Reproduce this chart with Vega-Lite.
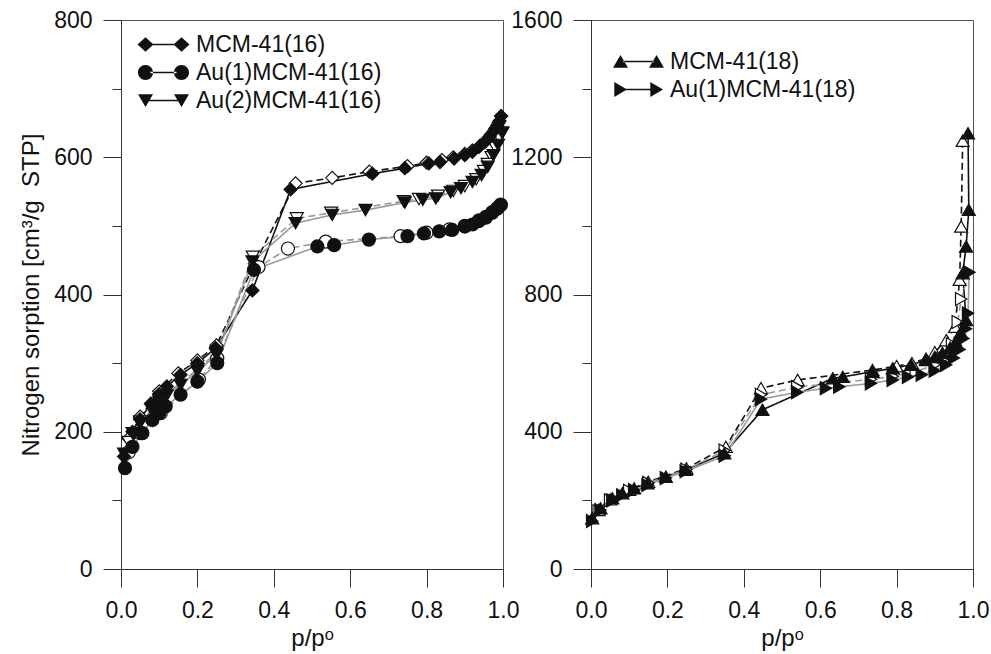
{
"$schema": "https://vega.github.io/schema/vega-lite/v6.json",
"background": "white",
"padding": {"left": 19, "top": 8, "right": 5, "bottom": 5},
"datasets": {
"a": [
{"s":"MCM-41(16)","b":"ads","i":1,"p":0.008,"v":164},{"s":"MCM-41(16)","b":"ads","i":2,"p":0.03,"v":200},{"s":"MCM-41(16)","b":"ads","i":3,"p":0.05,"v":218},{"s":"MCM-41(16)","b":"ads","i":4,"p":0.078,"v":241},{"s":"MCM-41(16)","b":"ads","i":5,"p":0.1,"v":255},{"s":"MCM-41(16)","b":"ads","i":6,"p":0.12,"v":266},{"s":"MCM-41(16)","b":"ads","i":7,"p":0.156,"v":283},{"s":"MCM-41(16)","b":"ads","i":8,"p":0.2,"v":300},{"s":"MCM-41(16)","b":"ads","i":9,"p":0.248,"v":322},{"s":"MCM-41(16)","b":"ads","i":10,"p":0.344,"v":406},{"s":"MCM-41(16)","b":"ads","i":11,"p":0.444,"v":553},{"s":"MCM-41(16)","b":"ads","i":12,"p":0.658,"v":576},{"s":"MCM-41(16)","b":"ads","i":13,"p":0.743,"v":584},{"s":"MCM-41(16)","b":"ads","i":14,"p":0.806,"v":591},{"s":"MCM-41(16)","b":"ads","i":15,"p":0.835,"v":593},{"s":"MCM-41(16)","b":"ads","i":16,"p":0.872,"v":598},{"s":"MCM-41(16)","b":"ads","i":17,"p":0.9,"v":603},{"s":"MCM-41(16)","b":"ads","i":18,"p":0.92,"v":608},{"s":"MCM-41(16)","b":"ads","i":19,"p":0.937,"v":615},{"s":"MCM-41(16)","b":"ads","i":20,"p":0.952,"v":622},{"s":"MCM-41(16)","b":"ads","i":21,"p":0.965,"v":630},{"s":"MCM-41(16)","b":"ads","i":22,"p":0.976,"v":638},{"s":"MCM-41(16)","b":"ads","i":23,"p":0.985,"v":646},{"s":"MCM-41(16)","b":"ads","i":24,"p":0.991,"v":653},{"s":"MCM-41(16)","b":"ads","i":25,"p":0.995,"v":660},
{"s":"MCM-41(16)","b":"des","i":1,"p":0.995,"v":660},{"s":"MCM-41(16)","b":"des","i":2,"p":0.988,"v":650},{"s":"MCM-41(16)","b":"des","i":3,"p":0.98,"v":642},{"s":"MCM-41(16)","b":"des","i":4,"p":0.968,"v":633},{"s":"MCM-41(16)","b":"des","i":5,"p":0.955,"v":624},{"s":"MCM-41(16)","b":"des","i":6,"p":0.94,"v":617},{"s":"MCM-41(16)","b":"des","i":7,"p":0.92,"v":610},{"s":"MCM-41(16)","b":"des","i":8,"p":0.9,"v":605},{"s":"MCM-41(16)","b":"des","i":9,"p":0.87,"v":600},{"s":"MCM-41(16)","b":"des","i":10,"p":0.84,"v":596},{"s":"MCM-41(16)","b":"des","i":11,"p":0.8,"v":592},{"s":"MCM-41(16)","b":"des","i":12,"p":0.75,"v":587},{"s":"MCM-41(16)","b":"des","i":13,"p":0.65,"v":579},{"s":"MCM-41(16)","b":"des","i":14,"p":0.553,"v":570},{"s":"MCM-41(16)","b":"des","i":15,"p":0.457,"v":562},{"s":"MCM-41(16)","b":"des","i":16,"p":0.35,"v":445},{"s":"MCM-41(16)","b":"des","i":17,"p":0.25,"v":326},{"s":"MCM-41(16)","b":"des","i":18,"p":0.2,"v":304},{"s":"MCM-41(16)","b":"des","i":19,"p":0.15,"v":285},{"s":"MCM-41(16)","b":"des","i":20,"p":0.1,"v":259},{"s":"MCM-41(16)","b":"des","i":21,"p":0.05,"v":222},{"s":"MCM-41(16)","b":"des","i":22,"p":0.02,"v":190},
{"s":"Au(1)MCM-41(16)","b":"ads","i":1,"p":0.0105,"v":147},{"s":"Au(1)MCM-41(16)","b":"ads","i":2,"p":0.03,"v":178},{"s":"Au(1)MCM-41(16)","b":"ads","i":3,"p":0.056,"v":198},{"s":"Au(1)MCM-41(16)","b":"ads","i":4,"p":0.082,"v":217},{"s":"Au(1)MCM-41(16)","b":"ads","i":5,"p":0.1,"v":227},{"s":"Au(1)MCM-41(16)","b":"ads","i":6,"p":0.117,"v":237},{"s":"Au(1)MCM-41(16)","b":"ads","i":7,"p":0.156,"v":254},{"s":"Au(1)MCM-41(16)","b":"ads","i":8,"p":0.2,"v":273},{"s":"Au(1)MCM-41(16)","b":"ads","i":9,"p":0.252,"v":300},{"s":"Au(1)MCM-41(16)","b":"ads","i":10,"p":0.348,"v":436},{"s":"Au(1)MCM-41(16)","b":"ads","i":11,"p":0.514,"v":470},{"s":"Au(1)MCM-41(16)","b":"ads","i":12,"p":0.558,"v":472},{"s":"Au(1)MCM-41(16)","b":"ads","i":13,"p":0.649,"v":480},{"s":"Au(1)MCM-41(16)","b":"ads","i":14,"p":0.75,"v":485},{"s":"Au(1)MCM-41(16)","b":"ads","i":15,"p":0.793,"v":489},{"s":"Au(1)MCM-41(16)","b":"ads","i":16,"p":0.833,"v":492},{"s":"Au(1)MCM-41(16)","b":"ads","i":17,"p":0.867,"v":494},{"s":"Au(1)MCM-41(16)","b":"ads","i":18,"p":0.9,"v":499},{"s":"Au(1)MCM-41(16)","b":"ads","i":19,"p":0.92,"v":502},{"s":"Au(1)MCM-41(16)","b":"ads","i":20,"p":0.937,"v":507},{"s":"Au(1)MCM-41(16)","b":"ads","i":21,"p":0.955,"v":512},{"s":"Au(1)MCM-41(16)","b":"ads","i":22,"p":0.972,"v":519},{"s":"Au(1)MCM-41(16)","b":"ads","i":23,"p":0.985,"v":525},{"s":"Au(1)MCM-41(16)","b":"ads","i":24,"p":0.994,"v":530},
{"s":"Au(1)MCM-41(16)","b":"des","i":1,"p":0.994,"v":531},{"s":"Au(1)MCM-41(16)","b":"des","i":2,"p":0.985,"v":526},{"s":"Au(1)MCM-41(16)","b":"des","i":3,"p":0.972,"v":520},{"s":"Au(1)MCM-41(16)","b":"des","i":4,"p":0.955,"v":513},{"s":"Au(1)MCM-41(16)","b":"des","i":5,"p":0.937,"v":508},{"s":"Au(1)MCM-41(16)","b":"des","i":6,"p":0.9,"v":500},{"s":"Au(1)MCM-41(16)","b":"des","i":7,"p":0.86,"v":495},{"s":"Au(1)MCM-41(16)","b":"des","i":8,"p":0.8,"v":490},{"s":"Au(1)MCM-41(16)","b":"des","i":9,"p":0.732,"v":485},{"s":"Au(1)MCM-41(16)","b":"des","i":10,"p":0.536,"v":477},{"s":"Au(1)MCM-41(16)","b":"des","i":11,"p":0.437,"v":467},{"s":"Au(1)MCM-41(16)","b":"des","i":12,"p":0.36,"v":440},{"s":"Au(1)MCM-41(16)","b":"des","i":13,"p":0.252,"v":307},{"s":"Au(1)MCM-41(16)","b":"des","i":14,"p":0.204,"v":276},{"s":"Au(1)MCM-41(16)","b":"des","i":15,"p":0.104,"v":227},{"s":"Au(1)MCM-41(16)","b":"des","i":16,"p":0.051,"v":198},{"s":"Au(1)MCM-41(16)","b":"des","i":17,"p":0.02,"v":170},
{"s":"Au(2)MCM-41(16)","b":"ads","i":1,"p":0.008,"v":168},{"s":"Au(2)MCM-41(16)","b":"ads","i":2,"p":0.03,"v":198},{"s":"Au(2)MCM-41(16)","b":"ads","i":3,"p":0.05,"v":212},{"s":"Au(2)MCM-41(16)","b":"ads","i":4,"p":0.08,"v":232},{"s":"Au(2)MCM-41(16)","b":"ads","i":5,"p":0.1,"v":243},{"s":"Au(2)MCM-41(16)","b":"ads","i":6,"p":0.12,"v":253},{"s":"Au(2)MCM-41(16)","b":"ads","i":7,"p":0.156,"v":268},{"s":"Au(2)MCM-41(16)","b":"ads","i":8,"p":0.2,"v":288},{"s":"Au(2)MCM-41(16)","b":"ads","i":9,"p":0.25,"v":312},{"s":"Au(2)MCM-41(16)","b":"ads","i":10,"p":0.344,"v":448},{"s":"Au(2)MCM-41(16)","b":"ads","i":11,"p":0.457,"v":504},{"s":"Au(2)MCM-41(16)","b":"ads","i":12,"p":0.553,"v":516},{"s":"Au(2)MCM-41(16)","b":"ads","i":13,"p":0.64,"v":523},{"s":"Au(2)MCM-41(16)","b":"ads","i":14,"p":0.743,"v":534},{"s":"Au(2)MCM-41(16)","b":"ads","i":15,"p":0.79,"v":538},{"s":"Au(2)MCM-41(16)","b":"ads","i":16,"p":0.824,"v":540},{"s":"Au(2)MCM-41(16)","b":"ads","i":17,"p":0.863,"v":549},{"s":"Au(2)MCM-41(16)","b":"ads","i":18,"p":0.89,"v":555},{"s":"Au(2)MCM-41(16)","b":"ads","i":19,"p":0.92,"v":564},{"s":"Au(2)MCM-41(16)","b":"ads","i":20,"p":0.944,"v":574},{"s":"Au(2)MCM-41(16)","b":"ads","i":21,"p":0.96,"v":586},{"s":"Au(2)MCM-41(16)","b":"ads","i":22,"p":0.975,"v":603},{"s":"Au(2)MCM-41(16)","b":"ads","i":23,"p":0.987,"v":618},{"s":"Au(2)MCM-41(16)","b":"ads","i":24,"p":0.998,"v":635},
{"s":"Au(2)MCM-41(16)","b":"des","i":1,"p":0.998,"v":636},{"s":"Au(2)MCM-41(16)","b":"des","i":2,"p":0.99,"v":628},{"s":"Au(2)MCM-41(16)","b":"des","i":3,"p":0.98,"v":614},{"s":"Au(2)MCM-41(16)","b":"des","i":4,"p":0.97,"v":600},{"s":"Au(2)MCM-41(16)","b":"des","i":5,"p":0.96,"v":590},{"s":"Au(2)MCM-41(16)","b":"des","i":6,"p":0.95,"v":580},{"s":"Au(2)MCM-41(16)","b":"des","i":7,"p":0.93,"v":568},{"s":"Au(2)MCM-41(16)","b":"des","i":8,"p":0.9,"v":558},{"s":"Au(2)MCM-41(16)","b":"des","i":9,"p":0.87,"v":551},{"s":"Au(2)MCM-41(16)","b":"des","i":10,"p":0.83,"v":544},{"s":"Au(2)MCM-41(16)","b":"des","i":11,"p":0.78,"v":539},{"s":"Au(2)MCM-41(16)","b":"des","i":12,"p":0.74,"v":536},{"s":"Au(2)MCM-41(16)","b":"des","i":13,"p":0.55,"v":519},{"s":"Au(2)MCM-41(16)","b":"des","i":14,"p":0.46,"v":511},{"s":"Au(2)MCM-41(16)","b":"des","i":15,"p":0.345,"v":455},{"s":"Au(2)MCM-41(16)","b":"des","i":16,"p":0.25,"v":315},{"s":"Au(2)MCM-41(16)","b":"des","i":17,"p":0.2,"v":291},{"s":"Au(2)MCM-41(16)","b":"des","i":18,"p":0.1,"v":246},{"s":"Au(2)MCM-41(16)","b":"des","i":19,"p":0.05,"v":215},{"s":"Au(2)MCM-41(16)","b":"des","i":20,"p":0.02,"v":185}
],
"b": [
{"s":"MCM-41(18)","b":"ads","i":1,"p":0.003,"v":148},{"s":"MCM-41(18)","b":"ads","i":2,"p":0.025,"v":177},{"s":"MCM-41(18)","b":"ads","i":3,"p":0.056,"v":206},{"s":"MCM-41(18)","b":"ads","i":4,"p":0.082,"v":221},{"s":"MCM-41(18)","b":"ads","i":5,"p":0.113,"v":235},{"s":"MCM-41(18)","b":"ads","i":6,"p":0.148,"v":250},{"s":"MCM-41(18)","b":"ads","i":7,"p":0.196,"v":269},{"s":"MCM-41(18)","b":"ads","i":8,"p":0.248,"v":289},{"s":"MCM-41(18)","b":"ads","i":9,"p":0.349,"v":337},{"s":"MCM-41(18)","b":"ads","i":10,"p":0.449,"v":464},{"s":"MCM-41(18)","b":"ads","i":11,"p":0.633,"v":556},{"s":"MCM-41(18)","b":"ads","i":12,"p":0.659,"v":560},{"s":"MCM-41(18)","b":"ads","i":13,"p":0.737,"v":575},{"s":"MCM-41(18)","b":"ads","i":14,"p":0.79,"v":585},{"s":"MCM-41(18)","b":"ads","i":15,"p":0.838,"v":595},{"s":"MCM-41(18)","b":"ads","i":16,"p":0.877,"v":609},{"s":"MCM-41(18)","b":"ads","i":17,"p":0.9,"v":618},{"s":"MCM-41(18)","b":"ads","i":18,"p":0.92,"v":630},{"s":"MCM-41(18)","b":"ads","i":19,"p":0.94,"v":645},{"s":"MCM-41(18)","b":"ads","i":20,"p":0.955,"v":662},{"s":"MCM-41(18)","b":"ads","i":21,"p":0.968,"v":690},{"s":"MCM-41(18)","b":"ads","i":22,"p":0.982,"v":726},{"s":"MCM-41(18)","b":"ads","i":23,"p":0.973,"v":862},{"s":"MCM-41(18)","b":"ads","i":24,"p":0.982,"v":940},{"s":"MCM-41(18)","b":"ads","i":25,"p":0.989,"v":1047},{"s":"MCM-41(18)","b":"ads","i":26,"p":0.987,"v":1270},
{"s":"MCM-41(18)","b":"des","i":1,"p":0.973,"v":1248},{"s":"MCM-41(18)","b":"des","i":2,"p":0.969,"v":998},{"s":"MCM-41(18)","b":"des","i":3,"p":0.965,"v":843},{"s":"MCM-41(18)","b":"des","i":4,"p":0.953,"v":706},{"s":"MCM-41(18)","b":"des","i":5,"p":0.93,"v":667},{"s":"MCM-41(18)","b":"des","i":6,"p":0.9,"v":632},{"s":"MCM-41(18)","b":"des","i":7,"p":0.877,"v":613},{"s":"MCM-41(18)","b":"des","i":8,"p":0.84,"v":600},{"s":"MCM-41(18)","b":"des","i":9,"p":0.8,"v":591},{"s":"MCM-41(18)","b":"des","i":10,"p":0.737,"v":580},{"s":"MCM-41(18)","b":"des","i":11,"p":0.541,"v":551},{"s":"MCM-41(18)","b":"des","i":12,"p":0.445,"v":527},{"s":"MCM-41(18)","b":"des","i":13,"p":0.353,"v":356},{"s":"MCM-41(18)","b":"des","i":14,"p":0.25,"v":293},{"s":"MCM-41(18)","b":"des","i":15,"p":0.15,"v":254},{"s":"MCM-41(18)","b":"des","i":16,"p":0.1,"v":231},{"s":"MCM-41(18)","b":"des","i":17,"p":0.05,"v":203},{"s":"MCM-41(18)","b":"des","i":18,"p":0.02,"v":172},
{"s":"Au(1)MCM-41(18)","b":"ads","i":1,"p":0.003,"v":140},{"s":"Au(1)MCM-41(18)","b":"ads","i":2,"p":0.025,"v":172},{"s":"Au(1)MCM-41(18)","b":"ads","i":3,"p":0.056,"v":200},{"s":"Au(1)MCM-41(18)","b":"ads","i":4,"p":0.082,"v":215},{"s":"Au(1)MCM-41(18)","b":"ads","i":5,"p":0.113,"v":230},{"s":"Au(1)MCM-41(18)","b":"ads","i":6,"p":0.148,"v":245},{"s":"Au(1)MCM-41(18)","b":"ads","i":7,"p":0.196,"v":265},{"s":"Au(1)MCM-41(18)","b":"ads","i":8,"p":0.248,"v":285},{"s":"Au(1)MCM-41(18)","b":"ads","i":9,"p":0.35,"v":330},{"s":"Au(1)MCM-41(18)","b":"ads","i":10,"p":0.445,"v":495},{"s":"Au(1)MCM-41(18)","b":"ads","i":11,"p":0.54,"v":515},{"s":"Au(1)MCM-41(18)","b":"ads","i":12,"p":0.615,"v":527},{"s":"Au(1)MCM-41(18)","b":"ads","i":13,"p":0.65,"v":531},{"s":"Au(1)MCM-41(18)","b":"ads","i":14,"p":0.733,"v":541},{"s":"Au(1)MCM-41(18)","b":"ads","i":15,"p":0.79,"v":551},{"s":"Au(1)MCM-41(18)","b":"ads","i":16,"p":0.83,"v":560},{"s":"Au(1)MCM-41(18)","b":"ads","i":17,"p":0.866,"v":566},{"s":"Au(1)MCM-41(18)","b":"ads","i":18,"p":0.9,"v":578},{"s":"Au(1)MCM-41(18)","b":"ads","i":19,"p":0.93,"v":595},{"s":"Au(1)MCM-41(18)","b":"ads","i":20,"p":0.95,"v":615},{"s":"Au(1)MCM-41(18)","b":"ads","i":21,"p":0.965,"v":640},{"s":"Au(1)MCM-41(18)","b":"ads","i":22,"p":0.975,"v":672},{"s":"Au(1)MCM-41(18)","b":"ads","i":23,"p":0.982,"v":700},{"s":"Au(1)MCM-41(18)","b":"ads","i":24,"p":0.987,"v":745},{"s":"Au(1)MCM-41(18)","b":"ads","i":25,"p":0.99,"v":865},
{"s":"Au(1)MCM-41(18)","b":"des","i":1,"p":0.99,"v":865},{"s":"Au(1)MCM-41(18)","b":"des","i":2,"p":0.969,"v":787},{"s":"Au(1)MCM-41(18)","b":"des","i":3,"p":0.96,"v":720},{"s":"Au(1)MCM-41(18)","b":"des","i":4,"p":0.945,"v":655},{"s":"Au(1)MCM-41(18)","b":"des","i":5,"p":0.92,"v":612},{"s":"Au(1)MCM-41(18)","b":"des","i":6,"p":0.9,"v":595},{"s":"Au(1)MCM-41(18)","b":"des","i":7,"p":0.85,"v":575},{"s":"Au(1)MCM-41(18)","b":"des","i":8,"p":0.79,"v":562},{"s":"Au(1)MCM-41(18)","b":"des","i":9,"p":0.733,"v":553},{"s":"Au(1)MCM-41(18)","b":"des","i":10,"p":0.54,"v":530},{"s":"Au(1)MCM-41(18)","b":"des","i":11,"p":0.445,"v":508},{"s":"Au(1)MCM-41(18)","b":"des","i":12,"p":0.35,"v":345},{"s":"Au(1)MCM-41(18)","b":"des","i":13,"p":0.25,"v":290},{"s":"Au(1)MCM-41(18)","b":"des","i":14,"p":0.15,"v":251},{"s":"Au(1)MCM-41(18)","b":"des","i":15,"p":0.1,"v":228},{"s":"Au(1)MCM-41(18)","b":"des","i":16,"p":0.05,"v":200},{"s":"Au(1)MCM-41(18)","b":"des","i":17,"p":0.02,"v":168}
]
},
"config": {
"font": "Liberation Sans",
"view": {"stroke": "#555", "strokeWidth": 1},
"axis": {"grid": false, "domainColor": "#333", "tickColor": "#333", "domainWidth": 1, "tickWidth": 1, "labelFont": "Liberation Sans", "labelFontSize": 23, "labelColor": "#111", "titleFont": "Liberation Sans", "titleFontSize": 24, "titleFontWeight": "normal", "titleColor": "#111", "labelFlush": false, "labelOverlap": false, "labelBound": false},
"legend": {"labelFont": "Liberation Sans", "labelFontSize": 23, "labelColor": "#111", "labelLimit": 0}
},
"spacing": 88,
"bounds": "flush",
"resolve": {"scale": {"shape": "independent"}},
"hconcat": [
{
"width": 382, "height": 549,
"data": {"name": "a"},
"resolve": {"scale": {"shape": "independent"}},
"layer": [
{"mark": {"type": "line", "strokeWidth": 1.6},
 "encoding": {
  "x": {"field": "p", "type": "quantitative", "scale": {"domain": [0, 1], "nice": false}, "axis": {"title": "p/pᵒ", "titlePadding": 4, "values": [0,0.1,0.2,0.3,0.4,0.5,0.6,0.7,0.8,0.9,1], "labelExpr": "round(datum.value*10)%2===0 ? format(datum.value,'.1f') : ''", "tickSize": {"condition": {"test": "round(datum.value*10)%2===0", "value": 18}, "value": 9}, "labelPadding": 12}},
  "y": {"field": "v", "type": "quantitative", "scale": {"domain": [0, 800], "nice": false}, "axis": {"title": "Nitrogen sorption [cm³/g\u00a0 STP]", "titlePadding": 10, "values": [0,100,200,300,400,500,600,700,800], "format": "d", "labelExpr": "datum.value%200===0 ? datum.label : ''", "tickSize": {"condition": {"test": "datum.value%200===0", "value": 18}, "value": 9}, "labelPadding": 11}},
  "detail": [{"field": "s", "type": "nominal"}, {"field": "b", "type": "nominal"}],
  "color": {"condition": {"test": "datum.s === 'MCM-41(16)'", "value": "#111111"}, "value": "#9a9a9a"},
  "strokeDash": {"condition": {"test": "datum.b === 'des'", "value": [7, 4]}, "value": [1, 0]},
  "order": {"field": "i", "type": "quantitative"}
 }},
{"mark": {"type": "point", "filled": true, "size": 170, "stroke": "#111", "strokeWidth": 1.2, "opacity": 1},
 "encoding": {
  "x": {"field": "p", "type": "quantitative"},
  "y": {"field": "v", "type": "quantitative"},
  "shape": {"field": "s", "type": "nominal", "scale": {"domain": ["MCM-41(16)", "Au(1)MCM-41(16)", "Au(2)MCM-41(16)"], "range": ["diamond", "circle", "triangle-down"]}, "legend": null},
  "fill": {"condition": {"test": "datum.b === 'des'", "value": "#ffffff"}, "value": "#111111"},
  "order": {"field": "b", "type": "nominal", "sort": "descending"}
 }},
{"mark": {"type": "point", "filled": true, "opacity": 0, "size": 10, "color": "#111111", "fill": "#111111", "stroke": "#111111", "strokeWidth": 1.5},
 "encoding": {
  "x": {"field": "p", "type": "quantitative"},
  "y": {"field": "v", "type": "quantitative"},
  "shape": {"field": "s", "type": "nominal", "scale": {"domain": ["MCM-41(16)", "Au(1)MCM-41(16)", "Au(2)MCM-41(16)"], "range": ["M-0.8,0L0,-0.72L0.8,0L0,0.72ZM2.8,0L3.6,-0.72L4.4,0L3.6,0.72ZM0.5,-0.08H3.1V0.08H0.5Z", "M-0.75,0A0.75,0.75 0 1,0 0.75,0A0.75,0.75 0 1,0 -0.75,0ZM2.85,0A0.75,0.75 0 1,0 4.35,0A0.75,0.75 0 1,0 2.85,0ZM0.5,-0.08H3.1V0.08H0.5Z", "M-0.75,-0.62L0.75,-0.62L0,0.65ZM2.85,-0.62L4.35,-0.62L3.6,0.65ZM0.3,-0.08H3.3V0.08H0.3Z"]},
   "legend": {"title": null, "orient": "none", "legendX": 13, "legendY": 13, "padding": 0, "symbolSize": 400, "symbolOpacity": 1, "symbolFillColor": "#111111", "symbolStrokeColor": "#111111", "symbolStrokeWidth": 1.5, "rowPadding": 4, "labelOffset": 39, "labelFontSize": 23}}
 }}
]
},
{
"width": 382, "height": 549,
"data": {"name": "b"},
"resolve": {"scale": {"shape": "independent"}},
"layer": [
{"mark": {"type": "line", "strokeWidth": 1.6},
 "encoding": {
  "x": {"field": "p", "type": "quantitative", "scale": {"domain": [0, 1], "nice": false}, "axis": {"title": "p/pᵒ", "titlePadding": 4, "values": [0,0.1,0.2,0.3,0.4,0.5,0.6,0.7,0.8,0.9,1], "labelExpr": "round(datum.value*10)%2===0 ? format(datum.value,'.1f') : ''", "tickSize": {"condition": {"test": "round(datum.value*10)%2===0", "value": 18}, "value": 9}, "labelPadding": 12}},
  "y": {"field": "v", "type": "quantitative", "scale": {"domain": [0, 1600], "nice": false}, "axis": {"title": null, "values": [0,200,400,600,800,1000,1200,1400,1600], "format": "d", "labelExpr": "datum.value%400===0 ? datum.label : ''", "tickSize": {"condition": {"test": "datum.value%400===0", "value": 18}, "value": 9}, "labelPadding": 11}},
  "detail": [{"field": "s", "type": "nominal"}, {"field": "b", "type": "nominal"}],
  "color": {"condition": {"test": "datum.s === 'MCM-41(18)'", "value": "#111111"}, "value": "#9a9a9a"},
  "strokeDash": {"condition": {"test": "datum.b === 'des'", "value": [7, 4]}, "value": [1, 0]},
  "order": {"field": "i", "type": "quantitative"}
 }},
{"mark": {"type": "point", "filled": true, "size": 170, "stroke": "#111", "strokeWidth": 1.2, "opacity": 1},
 "encoding": {
  "x": {"field": "p", "type": "quantitative"},
  "y": {"field": "v", "type": "quantitative"},
  "shape": {"field": "s", "type": "nominal", "scale": {"domain": ["MCM-41(18)", "Au(1)MCM-41(18)"], "range": ["triangle-up", "triangle-right"]}, "legend": null},
  "fill": {"condition": {"test": "datum.b === 'des'", "value": "#ffffff"}, "value": "#111111"},
  "order": {"field": "b", "type": "nominal", "sort": "descending"}
 }},
{"mark": {"type": "point", "filled": true, "opacity": 0, "size": 10, "color": "#111111", "fill": "#111111", "stroke": "#111111", "strokeWidth": 1.5},
 "encoding": {
  "x": {"field": "p", "type": "quantitative"},
  "y": {"field": "v", "type": "quantitative"},
  "shape": {"field": "s", "type": "nominal", "scale": {"domain": ["MCM-41(18)", "Au(1)MCM-41(18)"], "range": ["M-0.75,0.62L0.75,0.62L0,-0.65ZM2.85,0.62L4.35,0.62L3.6,-0.65ZM0.3,-0.08H3.3V0.08H0.3Z", "M-0.62,-0.75L0.65,0L-0.62,0.75ZM2.98,-0.75L4.25,0L2.98,0.75ZM0.5,-0.08H3V0.08H0.5Z"]},
   "legend": {"title": null, "orient": "none", "legendX": 18, "legendY": 30, "padding": 0, "symbolSize": 400, "symbolOpacity": 1, "symbolFillColor": "#111111", "symbolStrokeColor": "#111111", "symbolStrokeWidth": 1.5, "rowPadding": 4, "labelOffset": 38, "labelFontSize": 23}}
 }}
]
}
]
}
